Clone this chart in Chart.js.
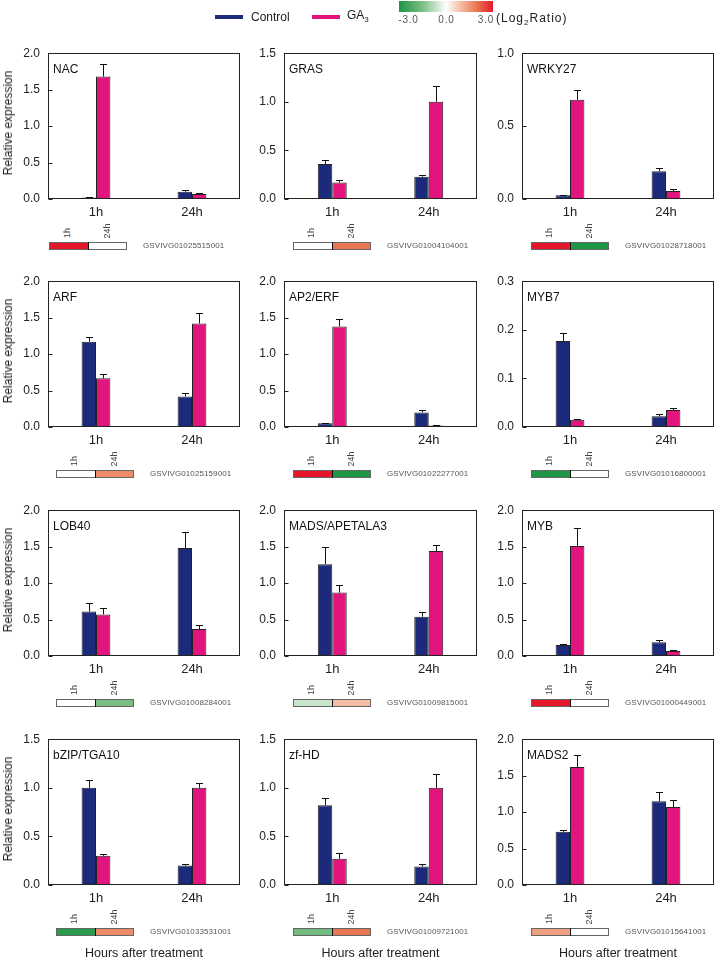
<!DOCTYPE html>
<html>
<head>
<meta charset="utf-8">
<script src="https://cdn.jsdelivr.net/npm/chart.js@4.4.0/dist/chart.umd.min.js"></script>
<style>
  html, body { margin: 0; padding: 0; background: #fff; }
  #page { position: relative; width: 716px; height: 959px; overflow: hidden; font-family: "Liberation Sans", Arial, sans-serif; color: #222; }
  #page canvas { position: absolute; }
  .txt { position: absolute; white-space: nowrap; line-height: 1; }
</style>
</head>
<body>
<div id="page"></div>
<script>
// ---- data ----
const timeLabels = ['1h', '24h'];
const geneNames = ['NAC', 'GRAS', 'WRKY27', 'ARF', 'AP2/ERF', 'MYB7',
  'LOB40', 'MADS/APETALA3', 'MYB', 'bZIP/TGA10', 'zf-HD', 'MADS2'];
const geneIds = ['GSVIVG01025515001', 'GSVIVG01004104001', 'GSVIVG01028718001',
  'GSVIVG01025159001', 'GSVIVG01022277001', 'GSVIVG01016800001',
  'GSVIVG01008284001', 'GSVIVG01009815001', 'GSVIVG01000449001',
  'GSVIVG01033531001', 'GSVIVG01009721001', 'GSVIVG01015641001'];

const controlValues = [[0.02, 0.10], [0.36, 0.23], [0.025, 0.19], [1.17, 0.42], [0.05, 0.20], [0.177, 0.022],
  [0.61, 1.48], [1.26, 0.54], [0.15, 0.19], [1.00, 0.20], [0.82, 0.19], [0.73, 1.15]];
const controlErrors = [[0.01, 0.02], [0.04, 0.02], [0.005, 0.02], [0.07, 0.05], [0.01, 0.03], [0.016, 0.004],
  [0.12, 0.22], [0.24, 0.07], [0.015, 0.03], [0.08, 0.02], [0.08, 0.03], [0.03, 0.12]];
const ga3Values = [[1.68, 0.07], [0.17, 1.00], [0.68, 0.055], [0.67, 1.42], [1.38, 0.02], [0.015, 0.035],
  [0.57, 0.37], [0.87, 1.44], [1.51, 0.07], [0.30, 1.00], [0.27, 1.00], [1.62, 1.07]];
const ga3Errors = [[0.17, 0.01], [0.03, 0.16], [0.07, 0.015], [0.06, 0.14], [0.10, 0.005], [0.002, 0.004],
  [0.09, 0.05], [0.10, 0.08], [0.25, 0.01], [0.015, 0.05], [0.06, 0.14], [0.17, 0.10]];

const yMaxValues = [2, 1.5, 1, 2, 2, 0.3, 2, 2, 2, 1.5, 1.5, 2];
const yStepValues = [0.5, 0.5, 0.5, 0.5, 0.5, 0.1, 0.5, 0.5, 0.5, 0.5, 0.5, 0.5];

// heat strip under each panel (Log2 ratio GA3 / control)
const log2Ratio1h = [3, 0, 3, 0, 3, -3, 0, -0.6, 3, -2.8, -1.6, 1.4];
const log2Ratio24h = [0, 2.0, -3, 1.7, -3, 0, -1.5, 1.0, 0, 1.7, 2.0, 0];

// ---- styling / layout ----
const controlColor = '#1c2a7c';
const ga3Color = '#e2147d';
const fontFamily = '"Liberation Sans", Arial, sans-serif';
const plotLeft = [48, 284, 522];
const plotWidth = [192, 193, 192];
const plotTop = [46, 274, 503, 732];
const plotHeight = 153;
const yAxisWidth = 44;

const page = document.getElementById('page');

function addText(txt, x, y, css, anchor) {
  const d = document.createElement('div');
  d.className = 'txt';
  d.innerHTML = txt;
  d.style.left = x + 'px';
  d.style.top = y + 'px';
  Object.assign(d.style, css || {});
  if (anchor === 'left') d.style.transform = 'translate(0,-50%)';
  else if (anchor === 'rot') d.style.transform = 'translate(-50%,-50%) rotate(-90deg)';
  else d.style.transform = 'translate(-50%,-50%)';
  page.appendChild(d);
  return d;
}

function addCanvas(x, y, w, h) {
  const c = document.createElement('canvas');
  c.width = w;
  c.height = h;
  c.style.left = x + 'px';
  c.style.top = y + 'px';
  c.style.width = w + 'px';
  c.style.height = h + 'px';
  page.appendChild(c);
  return c;
}

// colour scale green -> white -> red
const colorStops = [[-3, [30, 150, 70]], [-1.5, [122, 190, 132]], [0, [255, 255, 255]],
  [1, [244, 188, 162]], [2, [232, 118, 80]], [3, [228, 24, 42]]];
function ratioColor(v) {
  v = Math.max(-3, Math.min(3, v));
  for (let k = 0; k < colorStops.length - 1; k++) {
    const [a, ca] = colorStops[k];
    const [b, cb] = colorStops[k + 1];
    if (v >= a && v <= b) {
      const t = (v - a) / (b - a);
      const c = ca.map((x, j) => Math.round(x + (cb[j] - x) * t));
      return `rgb(${c[0]},${c[1]},${c[2]})`;
    }
  }
  return '#fff';
}

// box, inward ticks, panel name, error bars
const panelDecor = {
  id: 'panelDecor',
  afterDatasetsDraw(chart) {
    const ctx = chart.ctx;
    const y = chart.scales.y;
    ctx.save();
    ctx.strokeStyle = '#111';
    ctx.lineWidth = 1;
    chart.data.datasets.forEach((ds, i) => {
      const meta = chart.getDatasetMeta(i);
      meta.data.forEach((bar, j) => {
        const top = y.getPixelForValue(ds.data[j] + ds.errors[j]);
        const x = Math.round(bar.x) + 0.5;
        ctx.beginPath();
        ctx.moveTo(x, bar.y);
        ctx.lineTo(x, Math.round(top) + 0.5);
        ctx.moveTo(x - 3.5, Math.round(top) + 0.5);
        ctx.lineTo(x + 3.5, Math.round(top) + 0.5);
        ctx.stroke();
      });
    });
    ctx.restore();
  },
  afterDraw(chart, args, opts) {
    const ctx = chart.ctx;
    const a = chart.chartArea;
    const l = Math.round(a.left) + 0.5, t = Math.round(a.top) + 0.5;
    const r = Math.round(a.right) - 0.5, b = Math.round(a.bottom) - 0.5;
    ctx.save();
    ctx.strokeStyle = '#222';
    ctx.lineWidth = 1;
    ctx.strokeRect(l, t, r - l, b - t);
    ctx.beginPath();
    chart.scales.y.ticks.forEach(tk => {
      const py = Math.round(chart.scales.y.getPixelForValue(tk.value)) + 0.5;
      ctx.moveTo(l, py);
      ctx.lineTo(l + 4, py);
    });
    ctx.stroke();
    ctx.fillStyle = '#111';
    ctx.font = '12px ' + fontFamily;
    ctx.textBaseline = 'middle';
    ctx.fillText(opts.title, a.left + 5, a.top + 16);
    ctx.restore();
  }
};

const stripFrame = {
  id: 'stripFrame',
  afterDraw(chart) {
    const ctx = chart.ctx;
    const w = chart.width, h = chart.height;
    const mid = Math.round(chart.scales.x.getPixelForValue(1)) + 0.5;
    ctx.save();
    ctx.strokeStyle = '#666';
    ctx.lineWidth = 1;
    ctx.strokeRect(0.5, 0.5, w - 1, h - 1);
    ctx.strokeStyle = '#111';
    ctx.beginPath();
    ctx.moveTo(mid, 0);
    ctx.lineTo(mid, h);
    ctx.stroke();
    ctx.restore();
  }
};

function drawPanel(i) {
  const col = i % 3, row = Math.floor(i / 3);
  const pl = plotLeft[col], pw = plotWidth[col], pt = plotTop[row];
  const cv = addCanvas(pl - yAxisWidth, pt - 8, yAxisWidth + pw + 2, 8 + plotHeight + 24);
  new Chart(cv, {
    type: 'bar',
    data: {
      labels: timeLabels,
      datasets: [
        { label: 'Control', data: controlValues[i], errors: controlErrors[i],
          backgroundColor: controlColor, borderColor: '#222', borderWidth: 1 },
        { label: 'GA3', data: ga3Values[i], errors: ga3Errors[i],
          backgroundColor: ga3Color, borderColor: '#222', borderWidth: 1 }
      ]
    },
    options: {
      responsive: false,
      animation: false,
      devicePixelRatio: 1,
      layout: { padding: { top: 8, right: 2, left: 0, bottom: 0 } },
      datasets: { bar: { categoryPercentage: 0.3, barPercentage: 1.0 } },
      plugins: {
        legend: { display: false },
        tooltip: { enabled: false },
        panelDecor: { title: geneNames[i] }
      },
      scales: {
        x: {
          grid: { display: false, drawTicks: false },
          border: { display: false },
          ticks: { font: { family: fontFamily, size: 13 }, color: '#222', padding: 6 },
          afterFit: s => { s.height = 24; }
        },
        y: {
          min: 0,
          max: yMaxValues[i],
          grid: { display: false, drawTicks: false },
          border: { display: false },
          ticks: { stepSize: yStepValues[i], font: { family: fontFamily, size: 12 }, color: '#222', padding: 8,
            callback: v => v.toFixed(1) },
          afterFit: s => { s.width = yAxisWidth; }
        }
      }
    },
    plugins: [panelDecor]
  });

  // heat strip
  const sx = col === 0 ? (row === 0 ? 49 : 56) : pl + 9;
  const sy = pt + plotHeight + 43;
  const sc = addCanvas(sx, sy, 78, 8);
  new Chart(sc, {
    type: 'bar',
    data: {
      labels: [geneIds[i]],
      datasets: [
        { data: [1], backgroundColor: ratioColor(log2Ratio1h[i]) },
        { data: [1], backgroundColor: ratioColor(log2Ratio24h[i]) }
      ]
    },
    options: {
      indexAxis: 'y',
      responsive: false,
      animation: false,
      devicePixelRatio: 1,
      layout: { padding: 0 },
      datasets: { bar: { categoryPercentage: 1, barPercentage: 1, borderWidth: 0 } },
      plugins: { legend: { display: false }, tooltip: { enabled: false } },
      scales: {
        x: { stacked: true, min: 0, max: 2, display: false },
        y: { stacked: true, display: false }
      }
    },
    plugins: [stripFrame]
  });
  const small = { fontSize: '9px', color: '#444' };
  addText('1h', sx + 17.5, sy - 9, small, 'rot');
  addText('24h', sx + 57.5, sy - 11, small, 'rot');
  addText(geneIds[i], sx + 94, sy + 4, { fontSize: '8px', color: '#555', letterSpacing: '0.1px' }, 'left');

  if (col === 0) {
    addText('Relative expression', 7.5, pt + 77, { fontSize: '12px', color: '#222' }, 'rot');
  }
  if (row === 3) {
    addText('Hours after treatment', pl + pw / 2, 953, { fontSize: '12.5px', color: '#222' });
  }
}

for (let i = 0; i < geneNames.length; i++) drawPanel(i);

// ---- legend ----
function legendLine(x, color) {
  const d = document.createElement('div');
  Object.assign(d.style, { position: 'absolute', left: x + 'px', top: '15px', width: '28px', height: '4px', background: color });
  page.appendChild(d);
}
legendLine(215, controlColor);
addText('Control', 251, 17, { fontSize: '12px' }, 'left');
legendLine(312, ga3Color);
addText('GA<sub style="font-size:8px;vertical-align:-3px">3</sub>', 347, 16, { fontSize: '12px' }, 'left');

const grad = document.createElement('div');
Object.assign(grad.style, {
  position: 'absolute', left: '399px', top: '1px', width: '94px', height: '11px',
  background: 'linear-gradient(to right, rgb(30,150,70) 0%, rgb(122,190,132) 25%, #fff 50%, rgb(244,188,162) 66%, rgb(232,118,80) 83%, rgb(228,24,42) 100%)'
});
page.appendChild(grad);
const scaleTxt = { fontSize: '10px', color: '#555', letterSpacing: '0.8px' };
addText('-3.0', 408.5, 20, scaleTxt);
addText('0.0', 446.5, 20, scaleTxt);
addText('3.0', 486, 20, scaleTxt);
addText('(Log<sub style="font-size:8px;vertical-align:-3px">2</sub>Ratio)', 496, 19, { fontSize: '12px', color: '#222', letterSpacing: '1px' }, 'left');
</script>
</body>
</html>
